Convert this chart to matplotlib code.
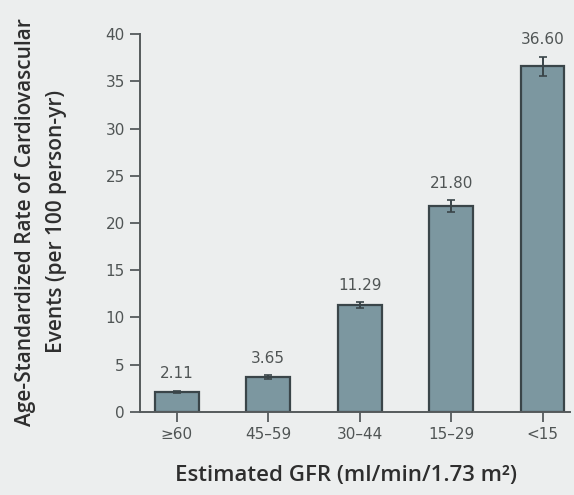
import matplotlib.pyplot as plt
import numpy as np

# GFR categories and age-standardized cardiovascular event rates
categories = ['\u226560', '45\u201359', '30\u201344', '15\u201329', '<15']
rates = [2.11, 3.65, 11.29, 21.80, 36.60]
errors = [0.15, 0.2, 0.3, 0.6, 1.0]
rate_labels = ['2.11', '3.65', '11.29', '21.80', '36.60']
yticks = [0, 5, 10, 15, 20, 25, 30, 35, 40]

plt.rcParams['font.family'] = ['Liberation Sans Narrow', 'DejaVu Sans']

fig = plt.figure(figsize=(5.74, 4.95), dpi=100)
fig.patch.set_facecolor('#eceeee')
ax = fig.add_axes([0.244, 0.168, 0.749, 0.763])
ax.set_facecolor('#eceeee')

x = np.arange(len(categories))
ax.bar(x, rates, width=0.48, color='#7c97a0', edgecolor='#3a4549', linewidth=1.6,
       yerr=errors, error_kw=dict(ecolor='#3a4549', elinewidth=1.4, capsize=3, capthick=1.2))

for xi, r, e, lab in zip(x, rates, errors, rate_labels):
    ax.text(xi, r + e + 1.0, lab, ha='center', va='bottom', fontsize=11, color='#505555')

ax.set_xlim(-0.40, 4.30)
ax.set_ylim(0, 40)
ax.set_xticks(x)
ax.set_xticklabels(categories, fontsize=11, color='#505555')
ax.set_yticks(yticks)
ax.set_yticklabels([str(t) for t in yticks], fontsize=11, color='#505555')

for s in ['top', 'right']:
    ax.spines[s].set_visible(False)
for s in ['left', 'bottom']:
    ax.spines[s].set_color('#555a5c')
    ax.spines[s].set_linewidth(1.4)
ax.tick_params(axis='both', direction='out', length=7, width=1.3, color='#555a5c', pad=4)

ax.set_xlabel('Estimated GFR (ml/min/1.73 m\u00b2)', fontsize=16, color='#2e2e2e',
              family=['Open Sans', 'DejaVu Sans'], fontweight='semibold')
ax.xaxis.set_label_coords(0.479, -0.14)

fig.text(0.0714, 0.552, 'Age-Standardized Rate of Cardiovascular\nEvents (per 100 person-yr)',
         rotation=90, ha='center', va='center', fontsize=15, color='#2e2e2e',
         family=['Open Sans', 'DejaVu Sans'], fontweight='semibold', linespacing=1.6)

fig.savefig('out.png', dpi=100, facecolor=fig.get_facecolor())
